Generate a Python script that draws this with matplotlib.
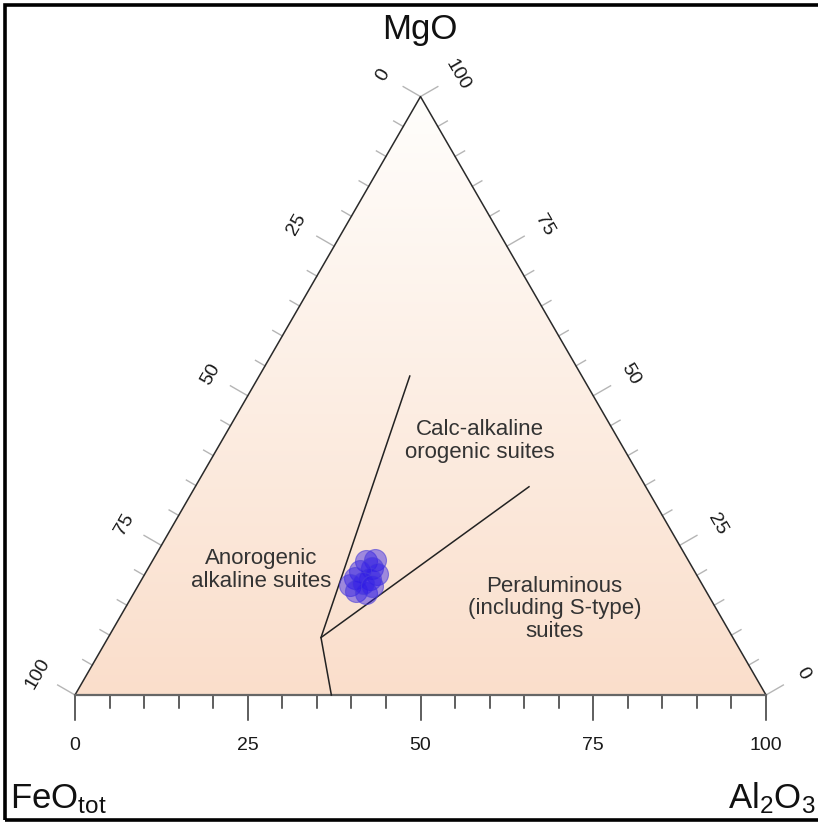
import numpy as np
import matplotlib
matplotlib.use("Agg")
import matplotlib.pyplot as plt
from matplotlib.patches import Polygon, Rectangle

plt.rcParams['font.family'] = ['Liberation Sans', 'DejaVu Sans']
plt.rcParams['mathtext.fontset'] = 'custom'
plt.rcParams['mathtext.rm'] = 'Liberation Sans'
plt.rcParams['mathtext.it'] = 'Liberation Sans:italic'

# Sample compositions (normalised wt%)
feo_tot = [46.7, 45.3, 46.4, 46.2, 47.6, 48.4, 49.7, 51.0, 50.6, 49.4, 49.0, 47.9]
mgo = [22.4, 22.6, 21.2, 20.2, 19.4, 20.7, 19.6, 18.4, 17.4, 17.1, 18.7, 18.2]
al2o3 = [30.9, 32.1, 32.4, 33.6, 33.0, 30.9, 30.7, 30.6, 32.0, 33.5, 32.3, 33.9]

# Field boundaries as (FeOt, MgO, Al2O3)
boundary_main = [(62.9, 0.0, 37.1), (59.6, 9.6, 30.8), (24.9, 53.3, 21.8)]
boundary_branch = [(59.6, 9.6, 30.8), (16.9, 34.8, 48.3)]

field_labels = ["Anorogenic\nalkaline suites",
                "Calc-alkaline\norogenic suites",
                "Peraluminous\n(including S-type)\nsuites"]
field_label_comp = [(62.6, 20.9, 16.5), (20.2, 42.4, 37.4), (23.4, 14.4, 62.2)]

tick_values = list(range(0, 101, 5))
tick_labels = [0, 25, 50, 75, 100]

S3 = np.sqrt(3) / 2


def tern(fe, mg, al):
    fe, mg, al = (np.asarray(v, dtype=float) for v in (fe, mg, al))
    s = fe + mg + al
    return (al + mg / 2) / s, mg * S3 / s


PX = 691.0  # pixels per unit side length
fig = plt.figure(figsize=(8.18, 8.24), dpi=100)
ax = fig.add_axes([0, 0, 1, 1])
ax.set_xlim(-75 / PX, 743 / PX)
ax.set_ylim((695 - 824) / PX, 695 / PX)
ax.set_aspect('equal')
ax.axis('off')

# Gradient fill clipped to the triangle
tri = Polygon([(0, 0), (1, 0), (0.5, S3)], closed=True, facecolor='none',
              edgecolor='none')
ax.add_patch(tri)
top_c = np.array([255, 254, 252]) / 255
bot_c = np.array([250, 222, 203]) / 255
t = np.linspace(0, 1, 256)[:, None]
grad = (top_c[None, :] * (1 - t) + bot_c[None, :] * t)[:, None, :]
im = ax.imshow(grad, extent=(0, 1, 0, S3), origin='upper', aspect='auto',
               interpolation='bilinear', zorder=0)
im.set_clip_path(tri)

# Triangle edges
ax.plot([0, 0.5, 1], [0, S3, 0], color='#2a2a2a', lw=1.1, zorder=3)
ax.plot([0, 1], [0, 0], color='#666666', lw=1.6, zorder=3)

maj_side, min_side = 20 / PX, 11 / PX
maj_bot, min_bot = 25 / PX, 13 / PX
lab_side = 43 / PX
lab_bot = 50 / PX
tick_fs = 14

# Bottom axis: Al2O3
for v in tick_values:
    x = v / 100
    L = maj_bot if v in tick_labels else min_bot
    ax.plot([x, x], [0, -L], color='#333333', lw=1.1, zorder=2)
for v in tick_labels:
    ax.text(v / 100, -lab_bot, str(v), ha='center', va='center',
            fontsize=tick_fs, color='#1a1a1a')

# Left edge: FeOt (0 at apex, 100 at lower left)
nl = np.array([-S3, 0.5])
for v in tick_values:
    x, y = (100 - v) / 200, (100 - v) / 100 * S3
    L = maj_side if v in tick_labels else min_side
    ax.plot([x, x + nl[0] * L], [y, y + nl[1] * L], color='#b5b5b5', lw=1.0,
            zorder=2)
for v in tick_labels:
    x, y = (100 - v) / 200, (100 - v) / 100 * S3
    ax.text(x + nl[0] * lab_side, y + nl[1] * lab_side, str(v), rotation=60,
            ha='center', va='center', fontsize=tick_fs, color='#1a1a1a',
            rotation_mode='anchor')

# Right edge: MgO (100 at apex, 0 at lower right)
nr = np.array([S3, 0.5])
for v in tick_values:
    x, y = 1 - v / 200, v / 100 * S3
    L = maj_side if v in tick_labels else min_side
    ax.plot([x, x + nr[0] * L], [y, y + nr[1] * L], color='#b5b5b5', lw=1.0,
            zorder=2)
for v in tick_labels:
    x, y = 1 - v / 200, v / 100 * S3
    ax.text(x + nr[0] * lab_side, y + nr[1] * lab_side, str(v), rotation=-60,
            ha='center', va='center', fontsize=tick_fs, color='#1a1a1a',
            rotation_mode='anchor')

# Field boundaries
for line in (boundary_main, boundary_branch):
    fe, mg, al = zip(*line)
    bx, by = tern(fe, mg, al)
    ax.plot(bx, by, color='#222222', lw=1.1, zorder=4)

# Field names
for text, comp in zip(field_labels, field_label_comp):
    lx, ly = tern(*comp)
    ax.text(lx, ly, text, ha='center', va='center', fontsize=16,
            color='#333333', linespacing=1.1, zorder=5)

# Samples
px, py = tern(feo_tot, mgo, al2o3)
ax.scatter(px, py, s=250, facecolor=(0.18, 0.1, 0.9, 0.45),
           edgecolor=(0.3, 0.25, 0.85, 0.6), linewidth=0.8, zorder=6)

# Apex labels
ax.text(0.4993, (695 - 30) / PX, 'MgO', ha='center', va='center',
        fontsize=25, color='#111111')
ax.text((10 - 75) / PX, (695 - 808) / PX, r'FeO$_{\mathrm{tot}}$',
        ha='left', va='baseline', fontsize=25, color='#111111')
ax.text((815 - 75) / PX, (695 - 808) / PX, r'Al$_{2}$O$_{3}$',
        ha='right', va='baseline', fontsize=25, color='#111111')

# Frame
ax.add_patch(Rectangle(((5 - 75) / PX, (695 - 820) / PX),
                       (840 - 5) / PX, (820 - 5) / PX, fill=False,
                       edgecolor='black', lw=2.6, zorder=7))

fig.savefig('out.png', dpi=100, facecolor='white')
